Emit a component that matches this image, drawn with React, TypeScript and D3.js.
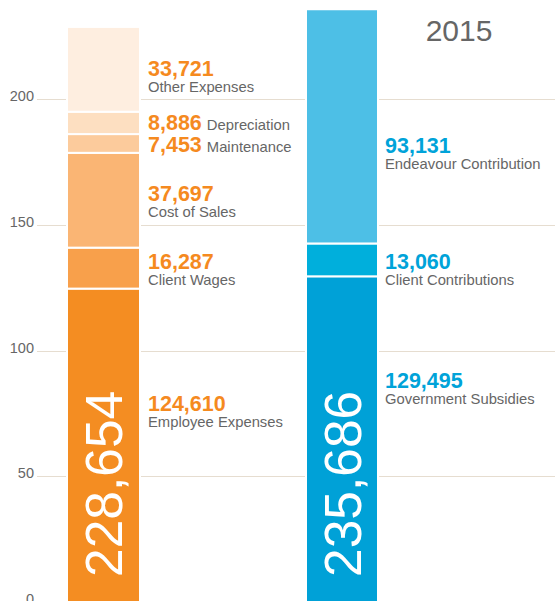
import { useEffect, useRef } from "react"
import * as d3 from "d3"

// values in dollars, drawn in thousands
const expenseCategories = ["Employee Expenses", "Client Wages", "Cost of Sales", "Maintenance", "Depreciation", "Other Expenses"]
const expenseValues = [124610, 16287, 37697, 7453, 8886, 33721]
const incomeCategories = ["Government Subsidies", "Client Contributions", "Endeavour Contribution"]
const incomeValues = [129495, 13060, 93131]
const yTicks = [0, 50, 100, 150, 200]
const yearLabel = "2015"

const expenseColors = ["#f48d22", "#f8a04b", "#fab574", "#fccb9c", "#fddfc1", "#feeee0"]
const incomeColors = ["#00a1d7", "#00afdc", "#4dbfe6"]
// labels that sit on one line with their value
const inlineLabels = ["Maintenance", "Depreciation"]
// nudges of value baselines from segment centres
const expenseShift = [-34, 1, 1, 9, 7, 7]
const incomeShift = [-51, 9, 27]

const W = 555
const H = 601
const FONT = "'Liberation Sans', Arial, Helvetica, sans-serif"

const App = () => {
  const svgRef = useRef(null)

  useEffect(() => {
    document.body.style.margin = "0"
    const svg = d3.select(svgRef.current)
    svg.selectAll("*").remove()
    svg.attr("font-family", FONT)

    const y = d3.scaleLinear().domain([0, 200]).range([602, 99])

    // grid + tick labels
    const grid = svg.append("g")
    grid.selectAll("line")
      .data(yTicks)
      .join("line")
        .attr("x1", 37)
        .attr("x2", W)
        .attr("y1", d => Math.round(y(d)) + 0.5)
        .attr("y2", d => Math.round(y(d)) + 0.5)
        .attr("stroke", "#e6ddd0")
        .attr("stroke-width", 1)
    grid.selectAll("text")
      .data(yTicks)
      .join("text")
        .attr("x", 34)
        .attr("y", d => y(d) + 2)
        .attr("text-anchor", "end")
        .attr("font-size", 14.5)
        .attr("fill", "#666")
        .text(d => d)

    const fmt = d3.format(",")

    const drawBar = (cats, vals, colors, shifts, x0, x1, labelX, textColor) => {
      let acc = 0
      const segs = vals.map((v, i) => {
        const s = { cat: cats[i], value: v, color: colors[i], shift: shifts[i], lo: acc / 1000, hi: (acc + v) / 1000 }
        acc += v
        return s
      })
      const g = svg.append("g")
      g.selectAll("rect")
        .data(segs)
        .join("rect")
          .attr("x", x0)
          .attr("width", x1 - x0)
          .attr("y", d => y(d.hi))
          .attr("height", d => y(d.lo) - y(d.hi))
          .attr("fill", d => d.color)
          .attr("stroke", "#fff")
          .attr("stroke-width", 2)

      const labels = g.selectAll("g.lbl")
        .data(segs)
        .join("g")
          .attr("class", "lbl")
          .attr("transform", d => `translate(${labelX},${(y(d.lo) + y(d.hi)) / 2 + d.shift})`)

      labels.each(function (d) {
        const t = d3.select(this)
        const v = t.append("text")
          .attr("font-size", 21.5)
          .attr("font-weight", "bold")
          .attr("fill", textColor)
        v.append("tspan").text(fmt(d.value))
        if (inlineLabels.includes(d.cat)) {
          v.append("tspan")
            .attr("dx", 5)
            .attr("font-size", 14.8)
            .attr("font-weight", "normal")
            .attr("fill", "#666")
            .text(d.cat)
        } else {
          t.append("text")
            .attr("y", 16)
            .attr("font-size", 14.8)
            .attr("fill", "#666")
            .text(d.cat)
        }
      })

      // total, rotated inside the bar
      svg.append("text")
        .attr("transform", `translate(${(x0 + x1) / 2},577) rotate(-90)`)
        .attr("dy", "0.36em")
        .attr("font-size", 51.5)
        .attr("fill", "#fff")
        .text(fmt(acc))
    }

    drawBar(expenseCategories, expenseValues, expenseColors, expenseShift, 67, 140, 148, "#f58a1f")
    drawBar(incomeCategories, incomeValues, incomeColors, incomeShift, 306, 378, 385, "#00a3d9")

    svg.append("text")
      .attr("x", 459)
      .attr("y", 41)
      .attr("text-anchor", "middle")
      .attr("font-size", 30)
      .attr("fill", "#666")
      .text(yearLabel)
  }, [])

  return <svg ref={svgRef} width={W} height={H} style={{ display: "block" }} />
}

export default App
